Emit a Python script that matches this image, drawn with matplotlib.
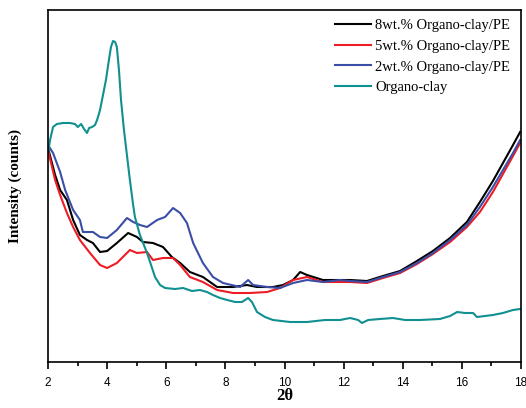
import numpy as np
import matplotlib
matplotlib.use("Agg")
import matplotlib.pyplot as plt
from matplotlib.ticker import MultipleLocator

# 2-theta / intensity readings (arbitrary counts) for each sample
theta_clay = [2.00, 2.07, 2.17, 2.30, 2.51, 2.74, 2.91, 3.01, 3.12, 3.22, 3.32, 3.39, 3.49, 3.59,
              3.66, 3.76, 3.86, 3.96, 4.06, 4.13, 4.20, 4.27, 4.33, 4.40, 4.47, 4.57, 4.67, 4.77,
              4.88, 4.94, 5.11, 5.35, 5.52, 5.62, 5.79, 5.96, 6.30, 6.57, 6.87, 7.14, 7.38, 7.58,
              7.82, 8.06, 8.33, 8.56, 8.77, 8.90, 9.07, 9.34, 9.61, 10.19, 10.76, 11.37, 11.88,
              12.22, 12.49, 12.62, 12.83, 13.23, 13.67, 14.08, 14.58, 15.26, 15.60, 15.84, 16.11,
              16.38, 16.51, 16.78, 17.05, 17.39, 17.73, 17.97]
int_clay = [209, 222, 235, 238, 239, 239, 238, 235, 238, 233, 229, 234, 235, 237,
            242, 252, 267, 282, 302, 315, 321, 320, 315, 292, 262, 232, 207, 182,
            157, 145, 127, 109, 94, 85, 77, 74, 73, 74, 71, 72, 70, 67,
            64, 62, 60, 60, 64, 60, 50, 45, 42, 40, 40, 42, 42,
            44, 42, 39, 42, 43, 44, 42, 42, 43, 46, 50, 49,
            49, 45, 46, 47, 49, 52, 53]

# shared tail of the three composite curves (2theta > 12)
theta_tail = [12.22, 12.79, 13.33, 13.91, 14.48, 15.02, 15.60, 16.17, 16.61, 17.05, 17.39, 17.73, 17.97]
int_tail_8 = [82, 81, 86, 91, 101, 111, 124, 140, 160, 181, 199, 217, 230]
int_tail_5 = [80, 79, 84, 89, 98, 108, 120, 135, 150, 170, 188, 206, 219]
int_tail_2 = [81, 80, 85, 90, 99, 109, 122, 137, 155, 175, 192, 209, 222]

theta_8 = [2.00, 2.24, 2.41, 2.64, 2.85, 3.08, 3.32, 3.52, 3.76, 4.00, 4.33, 4.71, 5.01, 5.21,
           5.55, 5.89, 6.19, 6.47, 6.80, 7.24, 7.72, 8.26, 8.73, 9.07, 9.61, 9.95, 10.29, 10.53,
           10.76, 11.30, 11.88]
int_8 = [214, 187, 172, 162, 142, 127, 122, 119, 110, 111, 119, 129, 125, 120,
         119, 115, 105, 99, 90, 85, 75, 75, 77, 75, 75, 77, 82, 90,
         87, 82, 82]

theta_5 = [2.00, 2.24, 2.41, 2.64, 2.85, 3.08, 3.42, 3.76, 4.00, 4.33, 4.77, 5.01, 5.35, 5.55,
           5.89, 6.23, 6.47, 6.80, 7.24, 7.72, 8.26, 8.83, 9.41, 9.85, 10.29, 10.76, 11.30, 11.88]
int_5 = [212, 182, 167, 149, 135, 122, 109, 97, 94, 99, 112, 109, 110, 102,
         104, 104, 97, 85, 80, 72, 69, 69, 70, 74, 82, 85, 80, 80]

theta_2 = [2.00, 2.17, 2.41, 2.58, 2.85, 3.08, 3.18, 3.52, 3.76, 4.00, 4.33, 4.67, 4.88, 5.11,
           5.35, 5.69, 5.96, 6.23, 6.47, 6.70, 6.91, 7.24, 7.58, 7.92, 8.50, 8.77, 8.94, 9.41,
           9.85, 10.29, 10.76, 11.30, 11.88]
int_2 = [217, 209, 190, 172, 152, 142, 130, 130, 125, 124, 132, 144, 140, 137,
         135, 142, 145, 154, 149, 139, 119, 99, 85, 79, 75, 82, 77, 75,
         74, 79, 82, 80, 82]

labels = ["8wt.% Organo-clay/PE", "5wt.% Organo-clay/PE", "2wt.% Organo-clay/PE", "Organo-clay"]
colors = ["#000000", "#ee1c25", "#3b4ea6", "#109090"]

fig = plt.figure(figsize=(5.26, 4.08), dpi=100)
ax = fig.add_axes([48 / 526, 46 / 408, 473 / 526, 352 / 408])

ax.plot(theta_8 + theta_tail, int_8 + int_tail_8, color=colors[0], lw=1.5, label=labels[0])
ax.plot(theta_5 + theta_tail, int_5 + int_tail_5, color=colors[1], lw=1.5, label=labels[1])
ax.plot(theta_2 + theta_tail, int_2 + int_tail_2, color=colors[2], lw=1.5, label=labels[2])
ax.plot(theta_clay, int_clay, color=colors[3], lw=1.5, label=labels[3])

ax.set_xlim(2, 18)
ax.set_ylim(0, 352)
ax.xaxis.set_major_locator(MultipleLocator(2))
ax.xaxis.set_minor_locator(MultipleLocator(1))
ax.tick_params(axis="x", which="major", direction="out", length=5, width=1.2,
               labelsize=8.5, pad=6)
ax.tick_params(axis="x", which="minor", direction="out", length=3, width=1.2)
ax.set_yticks([])
for lab in ax.get_xticklabels():
    lab.set_fontfamily("Liberation Sans")
for sp in ax.spines.values():
    sp.set_linewidth(1.2)

ax.set_xlabel("2θ", fontfamily="Liberation Serif", fontweight="bold", fontsize=12, labelpad=-1)
ax.set_ylabel("Intensity (counts)", fontfamily="Liberation Serif", fontweight="bold",
              fontsize=11, labelpad=19)

ax.legend(loc="upper left", bbox_to_anchor=(335 / 526, (408 - 19) / 408),
          bbox_transform=fig.transFigure, frameon=False, borderpad=0, borderaxespad=0,
          handlelength=2.5, handletextpad=0.27, labelspacing=0.51,
          prop={"family": "Liberation Serif", "size": 10.5})

fig.savefig("out.png", dpi=100)
